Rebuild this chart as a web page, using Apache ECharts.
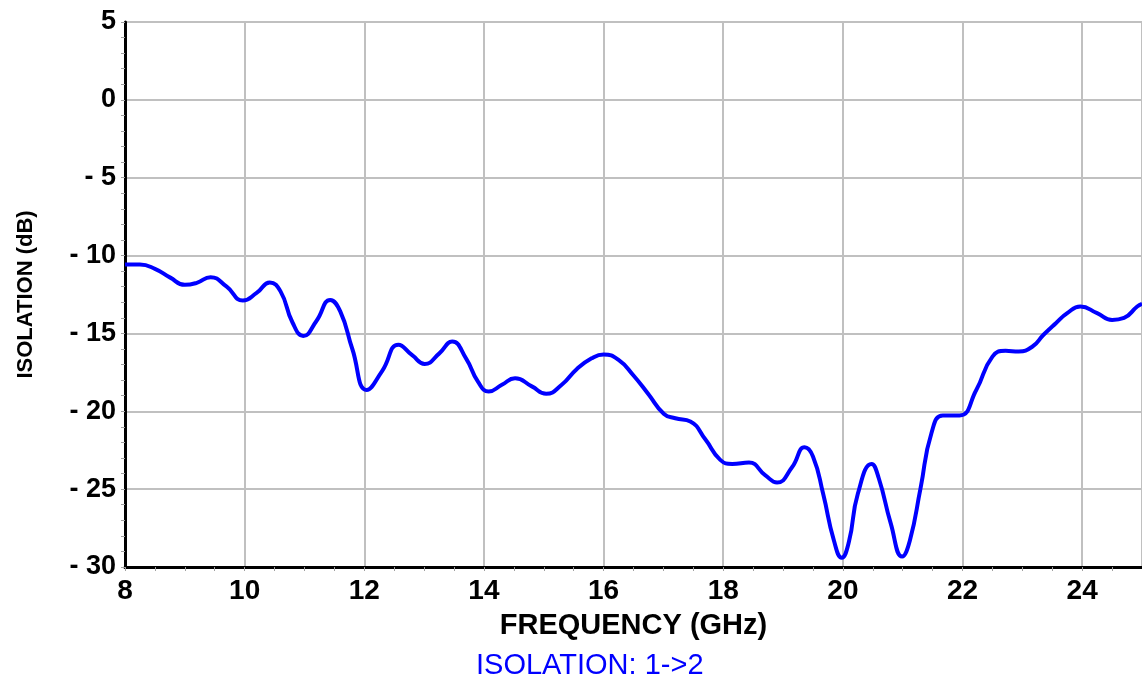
<!DOCTYPE html>
<html>
<head>
<meta charset="utf-8">
<script src="https://cdn.jsdelivr.net/npm/echarts@6/dist/echarts.min.js"></script>
<style>
html,body{margin:0;padding:0;background:#fff;}
#chart{width:1142px;height:682px;}
</style>
</head>
<body>
<div id="chart"></div>
<script>
const freqGHz = [8.0, 8.25, 8.5, 8.75, 9.0, 9.2, 9.43, 9.7, 9.97, 10.2, 10.42, 10.6, 10.8, 10.98, 11.2, 11.43, 11.6, 11.8, 12.04, 12.3, 12.57, 12.8, 13.01, 13.25, 13.47, 13.7, 13.9, 14.08, 14.3, 14.52, 14.8, 15.04, 15.3, 15.55, 15.8, 16.0, 16.25, 16.5, 16.75, 17.01, 17.2, 17.45, 17.7, 17.95, 18.15, 18.43, 18.7, 18.9, 19.15, 19.36, 19.5, 19.67, 19.85, 19.98, 20.1, 20.25, 20.48, 20.6, 20.8, 20.99, 21.12, 21.3, 21.48, 21.67, 21.95, 22.23, 22.5, 22.72, 22.94, 23.17, 23.35, 23.56, 23.75, 23.97, 24.25, 24.5, 24.7, 24.92, 25.0];
const isolationDb = [-10.58, -10.58, -10.85, -11.4, -11.88, -11.75, -11.39, -12.0, -12.89, -12.4, -11.73, -12.3, -14.3, -15.16, -14.2, -12.85, -13.6, -16.0, -18.63, -17.4, -15.73, -16.4, -16.96, -16.3, -15.52, -16.6, -18.1, -18.73, -18.3, -17.88, -18.4, -18.88, -18.3, -17.3, -16.6, -16.35, -16.7, -17.7, -18.9, -20.17, -20.45, -20.65, -21.8, -23.12, -23.38, -23.29, -24.1, -24.58, -23.6, -22.31, -22.9, -25.3, -28.3, -29.4, -28.4, -25.3, -23.38, -24.3, -27.2, -29.33, -28.3, -24.9, -21.41, -20.27, -20.27, -18.63, -16.49, -16.12, -16.16, -15.84, -15.1, -14.34, -13.7, -13.27, -13.7, -14.13, -14.0, -13.27, -13.1];
const seriesName = 'ISOLATION: 1->2';
const xTitle = 'FREQUENCY (GHz)';
const yTitle = 'ISOLATION (dB)';

const font = '"Liberation Sans", Arial, sans-serif';
const chart = echarts.init(document.getElementById('chart'));
chart.setOption({
  animation: false,
  backgroundColor: '#ffffff',
  grid: { left: 125, right: 0, top: 22, bottom: 115, show: true, borderColor: '#606060', borderWidth: 1 },
  legend: {
    top: 646, left: 466,
    icon: 'none', itemWidth: 0, itemGap: 0,
    textStyle: { color: '#0000ff', fontSize: 29, fontFamily: font },
    data: [seriesName]
  },
  xAxis: {
    type: 'value', min: 8, max: 25, interval: 2,
    name: xTitle, nameLocation: 'middle', nameGap: 44,
    nameTextStyle: { color: '#000', fontSize: 29, fontWeight: 'bold', fontFamily: font },
    axisLine: { show: true, onZero: false, lineStyle: { color: '#000', width: 3 } },
    axisTick: { show: true, length: 4, lineStyle: { color: '#a0a0a0' } },
    minorTick: { show: true, splitNumber: 4, length: 4, lineStyle: { color: '#a0a0a0' } },
    axisLabel: { color: '#000', fontSize: 28, fontWeight: 'bold', fontFamily: font, margin: 10, showMaxLabel: false },
    splitLine: { show: true, lineStyle: { color: '#c0c0c0', width: 2 } }
  },
  yAxis: {
    type: 'value', min: -30, max: 5, interval: 5,
    name: yTitle, nameLocation: 'middle', nameGap: 88, nameRotate: 90,
    nameTextStyle: { color: '#000', fontSize: 22, fontWeight: 'bold', fontFamily: font },
    axisLine: { show: true, onZero: false, lineStyle: { color: '#000', width: 3 } },
    axisTick: { show: true, length: 4, lineStyle: { color: '#a0a0a0' } },
    minorTick: { show: true, splitNumber: 5, length: 4, lineStyle: { color: '#a0a0a0' } },
    axisLabel: {
      color: '#000', fontSize: 27, fontWeight: 'bold', fontFamily: font, margin: 9,
      formatter: v => v < 0 ? '- ' + (-v) : String(v)
    },
    splitLine: { show: true, lineStyle: { color: '#c0c0c0', width: 2 } }
  },
  series: [{
    name: seriesName,
    type: 'line',
    data: freqGHz.map((f, i) => [f, isolationDb[i]]),
    smooth: 0.5,
    showSymbol: false,
    clip: true,
    lineStyle: { color: '#0000ff', width: 4 },
    itemStyle: { color: '#0000ff' }
  }]
});
</script>
</body>
</html>
